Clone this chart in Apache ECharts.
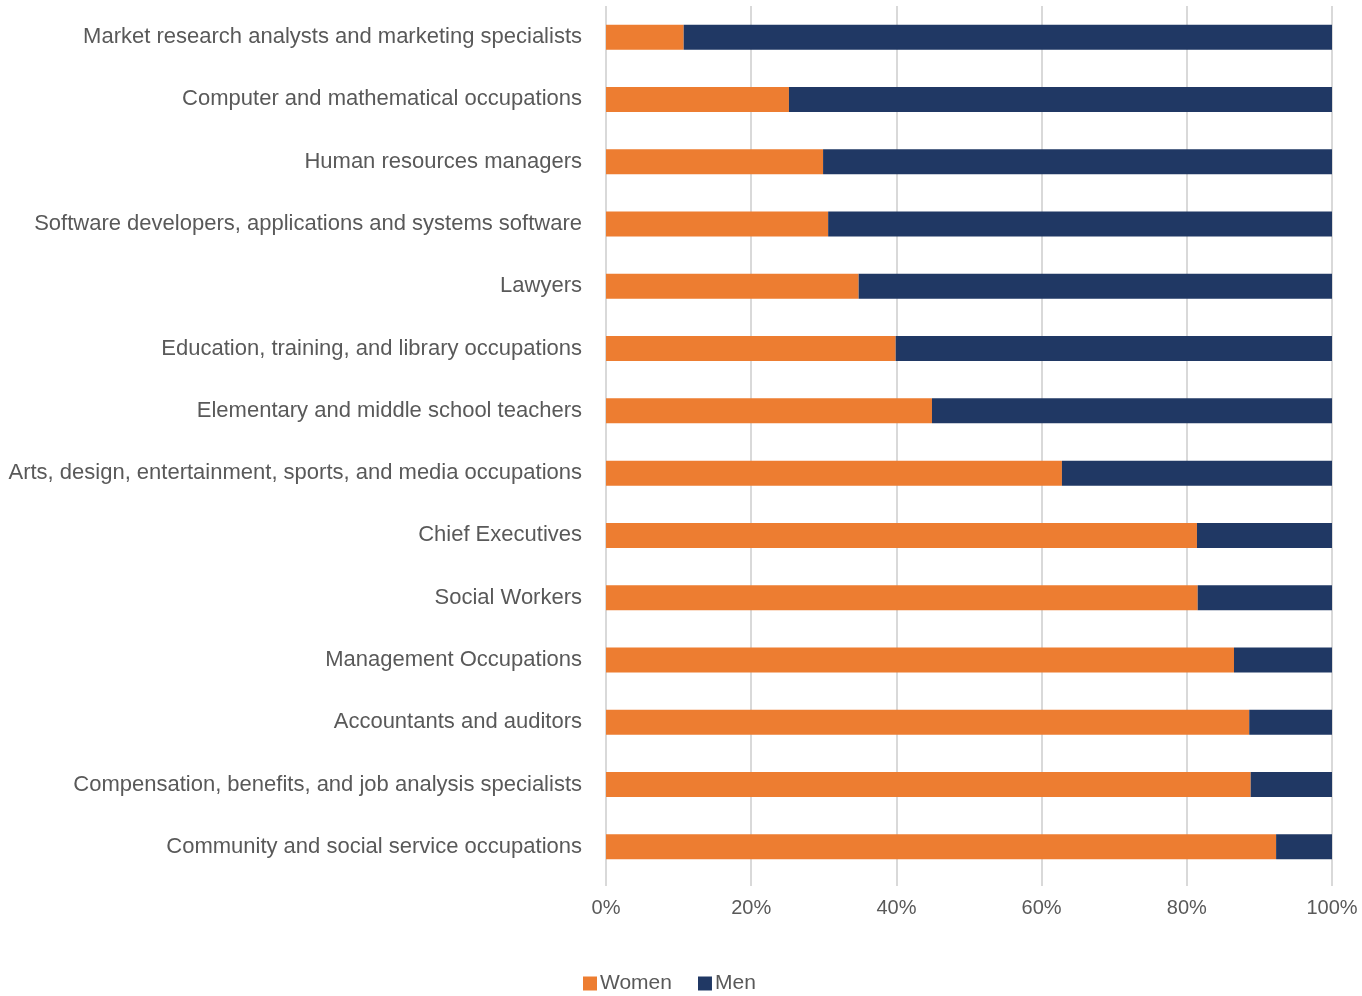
<!DOCTYPE html>
<html>
<head>
<meta charset="utf-8">
<script src="https://cdn.jsdelivr.net/npm/echarts@6/dist/echarts.min.js"></script>
<style>
  html, body { margin: 0; padding: 0; background: #fff; }
  #chart { width: 1362px; height: 996px; }
</style>
</head>
<body>
<div id="chart"></div>
<script>
const categories = [
  'Market research analysts and marketing specialists',
  'Computer and mathematical occupations',
  'Human resources managers',
  'Software developers, applications and systems software',
  'Lawyers',
  'Education, training, and library occupations',
  'Elementary and middle school teachers',
  'Arts, design, entertainment, sports, and media occupations',
  'Chief Executives',
  'Social Workers',
  'Management Occupations',
  'Accountants and auditors',
  'Compensation, benefits, and job analysis specialists',
  'Community and social service occupations'
];
const women = [10.7, 25.2, 29.9, 30.6, 34.8, 39.9, 44.9, 62.8, 81.4, 81.5, 86.5, 88.6, 88.8, 92.3];
const men = women.map(w => +(100 - w).toFixed(1));

const FONT = '"Liberation Sans Narrow", "Arial Narrow", "Liberation Sans", sans-serif';
const TEXT = '#595959';

const chart = echarts.init(document.getElementById('chart'), null, { renderer: 'canvas' });

chart.setOption({
  animation: false,
  textStyle: { fontFamily: FONT },
  grid: { left: 606, right: 30, top: 6, bottom: 118, containLabel: false, outerBoundsMode: 'none' },
  legend: {
    data: ['Women', 'Men'],
    top: 968,
    left: 578,
    itemWidth: 14,
    itemHeight: 14,
    itemGap: 26,
    icon: 'rect',
    textStyle: { fontFamily: FONT, fontSize: 21, color: TEXT, padding: [0, 0, 0, -2] }
  },
  xAxis: {
    type: 'value',
    min: 0,
    max: 100,
    interval: 20,
    axisLabel: {
      formatter: '{value}%',
      fontSize: 20,
      color: TEXT,
      margin: 20,
      fontFamily: FONT
    },
    axisLine: { show: false },
    axisTick: { show: true, length: 8, lineStyle: { color: '#d9d9d9', width: 2 } },
    splitLine: { show: true, lineStyle: { color: '#d9d9d9', width: 2 } }
  },
  yAxis: {
    type: 'category',
    data: categories,
    inverse: true,
    axisLabel: { fontSize: 22, color: TEXT, margin: 24, fontFamily: FONT },
    axisLine: { show: false },
    axisTick: { show: false }
  },
  series: [
    {
      name: 'Women',
      type: 'bar',
      stack: 'total',
      data: women,
      barWidth: 25,
      itemStyle: { color: '#ED7D31' }
    },
    {
      name: 'Men',
      type: 'bar',
      stack: 'total',
      data: men,
      barWidth: 25,
      itemStyle: { color: '#203864' }
    }
  ]
});
</script>
</body>
</html>
